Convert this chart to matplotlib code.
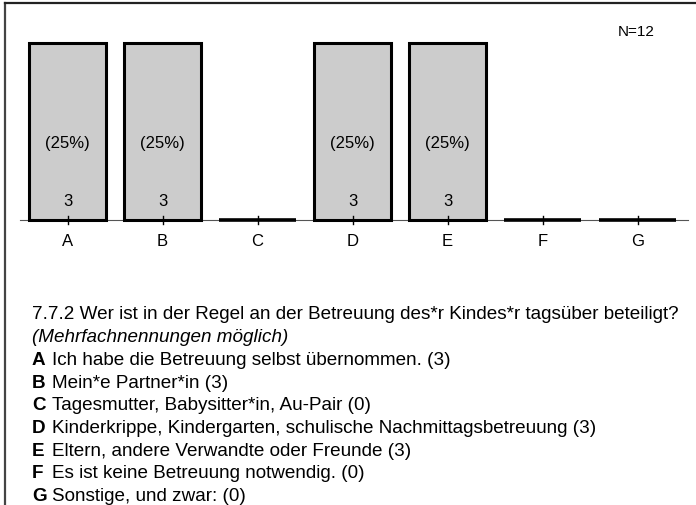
import matplotlib
matplotlib.use("Agg")
import matplotlib.pyplot as plt
from matplotlib.lines import Line2D

plt.rcParams['font.family'] = ['Liberation Sans', 'DejaVu Sans']

categories = ['A', 'B', 'C', 'D', 'E', 'F', 'G']
counts = [3, 3, 0, 3, 3, 0, 0]
n_total = 12
question = "7.7.2 Wer ist in der Regel an der Betreuung des*r Kindes*r tagsüber beteiligt?"
note = "(Mehrfachnennungen möglich)"
answers = [
    "Ich habe die Betreuung selbst übernommen.",
    "Mein*e Partner*in",
    "Tagesmutter, Babysitter*in, Au-Pair",
    "Kinderkrippe, Kindergarten, schulische Nachmittagsbetreuung",
    "Eltern, andere Verwandte oder Freunde",
    "Es ist keine Betreuung notwendig.",
    "Sonstige, und zwar:",
]

W, H = 696, 506
fig = plt.figure(figsize=(W / 100, H / 100), dpi=100)

# frame lines at top and left
fig.add_artist(Line2D([5 / W, 5 / W], [0, 1 - 4 / H], color='#444444', lw=1.6))
fig.add_artist(Line2D([5 / W, 1], [1 - 4 / H, 1 - 4 / H], color='#222222', lw=1.6))

# chart area in pixels: baseline at y=221 from the top, 59 px per count
px_unit = 59.0
ax_left, ax_right = 20, 688
ax_bottom = H - 221
ax_top = H - 15
ax = fig.add_axes([ax_left / W, ax_bottom / H, (ax_right - ax_left) / W, (ax_top - ax_bottom) / H])
x0 = 67.5
step = 95.0
ax.set_xlim((ax_left - x0) / step, (ax_right - x0) / step)
ax.set_ylim(0, (ax_top - ax_bottom) / px_unit)

xs = list(range(len(categories)))
bar_w = 0.81
for x, c in zip(xs, counts):
    if c > 0:
        ax.bar(x, c, width=bar_w, color='#cccccc', edgecolor='black', linewidth=2.2,
               zorder=2, clip_on=False)
        pct = 100 * c / n_total
        ax.text(x, c * 0.44, f"({pct:.0f}%)", ha='center', va='center', fontsize=12)
        ax.text(x, 0.33, f"{c}", ha='center', va='center', fontsize=12)
    else:
        ax.plot([x - bar_w / 2, x + bar_w / 2], [0, 0], color='black', lw=2.6, zorder=3,
                solid_capstyle='butt', clip_on=False)

ax.axhline(0, color='#555555', lw=0.8, zorder=1, clip_on=False)
for x in xs:
    ax.plot([x, x], [-0.07, 0.06], color='black', lw=1.0, zorder=4, clip_on=False)

for s in ax.spines.values():
    s.set_visible(False)
ax.set_yticks([])
ax.set_xticks(xs)
ax.set_xticklabels(categories, fontsize=12)
ax.tick_params(axis='x', length=0, pad=9)

fig.text(655 / W, 1 - 32 / H, f"N={n_total}", ha='right', va='center', fontsize=11)

# question and answer legend below the chart
fs = 13.6
line_h = 22.7
fig.text(32 / W, 1 - 315 / H, question, ha='left', va='center', fontsize=fs)
fig.text(32 / W, 1 - (315 + line_h) / H, note, ha='left', va='center', fontsize=fs, style='italic')
y = 315 + 2 * line_h
for cat, txt, c in zip(categories, answers, counts):
    fig.text(32 / W, 1 - y / H, cat, ha='left', va='center', fontsize=fs, fontweight='bold')
    fig.text(52 / W, 1 - y / H, f"{txt} ({c})", ha='left', va='center', fontsize=fs)
    y += line_h

fig.savefig("out.png", dpi=100)
